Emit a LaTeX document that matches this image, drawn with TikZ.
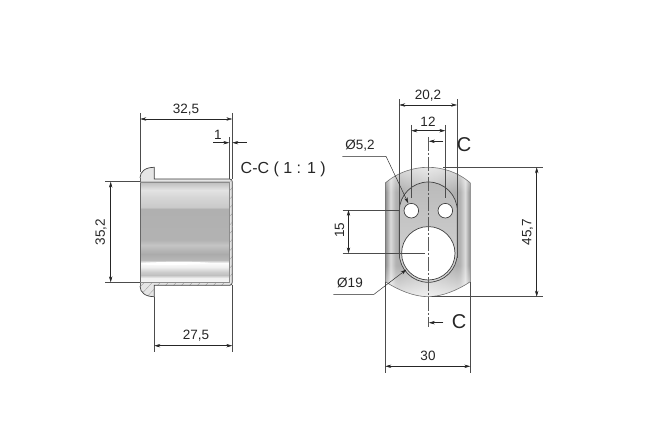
\documentclass[tikz,border=0pt]{standalone}
\usepackage{fontspec}
\usetikzlibrary{arrows.meta,fadings}
\setmainfont{Liberation Sans}
\pgfdeclareverticalshading{tubeshade}{100bp}{color(0bp)=(black!4);color(25bp)=(black!4);color(27bp)=(black!6);color(28.5bp)=(black!25);color(30bp)=(black!20);color(32.5bp)=(black!6);color(34.5bp)=(black!1);color(36bp)=(black!28);color(39bp)=(black!33);color(43.5bp)=(black!23);color(46bp)=(black!30);color(61.5bp)=(black!31);color(62.5bp)=(black!21);color(67.5bp)=(black!16);color(71bp)=(black!11);color(74.5bp)=(black!24);color(100bp)=(black!24)}
\pgfdeclarehorizontalshading{plateshade}{100bp}{color(0bp)=(black!45);color(25bp)=(black!45);color(26bp)=(black!35);color(28bp)=(black!14);color(31bp)=(black!30);color(33bp)=(black!32);color(50bp)=(black!22);color(67bp)=(black!32);color(69bp)=(black!30);color(72bp)=(black!14);color(74bp)=(black!35);color(75bp)=(black!45);color(100bp)=(black!45)}
\pgfdeclareverticalshading{keyshade}{100bp}{color(0bp)=(black!16);color(25bp)=(black!16);color(75bp)=(black!27);color(100bp)=(black!27)}
\tikzset{
	outline/.style={draw=black!75, line width=0.7pt},
	dimline/.style={line width=0.45pt, draw=black!85, >={Stealth[length=6pt,width=3.4pt]}},
	extline/.style={line width=0.45pt, draw=black!70},
	dimtext/.style={inner sep=0pt, font=\fontsize{13.5}{15}\selectfont, text=black!85},
	cuttext/.style={inner sep=0pt, font=\fontsize{20}{22}\selectfont, text=black!85},
	hatchline/.style={line width=0.3pt, draw=black!40}
}
\begin{document}
\begin{tikzpicture}[x=1pt, y=-1pt]
	\def\dimh[#1](#2,#3,#4){
		\draw[dimline, <->, #1] (#2,#4)--(#3,#4);}
	\def\dimv[#1](#2,#3,#4){
		\draw[dimline, <->, #1] (#4,#2)--(#4,#3);}
	\useasboundingbox (0,0) rectangle (653,435);
	\fill[white] (0,0) rectangle (653,435);
	% side view
	\fill[black!10] (140,178) .. controls (140,171) and (146,167.3) .. (154.3,167.3) -- (154.3,179) -- (229.5,179) .. controls (231.5,179) and (232.3,180) .. (232.3,182) -- (232.3,282) .. controls (232.3,284.5) and (231.5,285.3) .. (229.5,285.3) -- (154.3,285.3) -- (154.3,296.7) .. controls (146,296.7) and (140,293) .. (140,286) -- cycle;
	\begin{scope}
		\clip (140,178) .. controls (140,171) and (146,167.3) .. (154.3,167.3) -- (154.3,179) -- (229.5,179) .. controls (231.5,179) and (232.3,180) .. (232.3,182) -- (232.3,282) .. controls (232.3,284.5) and (231.5,285.3) .. (229.5,285.3) -- (154.3,285.3) -- (154.3,296.7) .. controls (146,296.7) and (140,293) .. (140,286) -- cycle;
		\foreach \x in {120,128,...,340}{\draw[hatchline] (\x,300)--(\x+130,160);}
	\end{scope}
	\shade[shading=tubeshade] (140.5,182) rectangle (229.5,282);
	\draw[outline] (140,178) .. controls (140,171) and (146,167.3) .. (154.3,167.3) -- (154.3,179) -- (229.5,179) .. controls (231.5,179) and (232.3,180) .. (232.3,182) -- (232.3,226.5);
	\draw[outline] (140,286) .. controls (140,293) and (146,296.7) .. (154.3,296.7) -- (154.3,285.3) -- (229.5,285.3) .. controls (231.5,285.3) and (232.3,284.5) .. (232.3,282) -- (232.3,226.5);
	\draw[line width=0.5pt, draw=black!60] (140,178)--(140,286);
	\draw[line width=0.5pt, draw=black!45] (140,182)--(229.5,182)--(229.5,282)--(140,282);
	\fill[white] (143,263) .. controls (160,261.5) and (200,261.5) .. (210,263) .. controls (210.5,264.5) and (160,266) .. (143,264.5) -- cycle;
	% front view
	\shade[shading=plateshade] (385.3,183) .. controls (398,172) and (414,167.3) .. (428,167.3) .. controls (442,167.3) and (458,172) .. (470.3,183) -- (470.3,281.7) .. controls (458,290) and (442,296.7) .. (428,296.7) .. controls (414,296.7) and (398,290) .. (385.3,281.7) -- cycle;
	\begin{scope}
		\clip (385.3,183) .. controls (398,172) and (414,167.3) .. (428,167.3) .. controls (442,167.3) and (458,172) .. (470.3,183) -- (470.3,281.7) .. controls (458,290) and (442,296.7) .. (428,296.7) .. controls (414,296.7) and (398,290) .. (385.3,281.7) -- cycle;
		\fill[white, fill opacity=0.75, path fading=north] (385,265) rectangle (471,297);
		\fill[white, fill opacity=0.6, path fading=south] (385,167) rectangle (471,192);
	\end{scope}
	\draw[line width=0.6pt, draw=black!55] (385.3,183) .. controls (398,172) and (414,167.3) .. (428,167.3) .. controls (442,167.3) and (458,172) .. (470.3,183) -- (470.3,281.7) .. controls (458,290) and (442,296.7) .. (428,296.7) .. controls (414,296.7) and (398,290) .. (385.3,281.7) -- cycle;
	\shade[shading=keyshade] (399.3,211) arc[start angle=180, end angle=360, radius=29] -- (457.3,253.3) arc[start angle=0, end angle=180, radius=29] -- cycle;
	\draw[outline] (399.3,211) arc[start angle=180, end angle=360, radius=29] -- (457.3,253.3) arc[start angle=0, end angle=180, radius=29] -- cycle;
	\draw[outline, fill=white] (428.3,253.3) circle[radius=26.7];
	\draw[outline, fill=white] (411.3,210.7) circle[radius=7.3];
	\draw[outline, fill=white] (445.3,210.7) circle[radius=7.3];
	% extension lines
	\draw[extline] (140.3,113)--(140.3,172) (232.3,113)--(232.3,179) (229.3,137)--(229.3,179);
	\draw[extline] (105,181.7)--(140,181.7) (105,282.3)--(140,282.3);
	\draw[extline] (154.3,296.7)--(154.3,351.7) (232.3,285)--(232.3,351.7);
	\draw[extline] (399.3,99.3)--(399.3,258) (457,99.3)--(457,258);
	\draw[extline] (411.3,125)--(411.3,198) (445.3,125)--(445.3,198);
	\draw[extline] (443,167.3)--(542.7,167.3) (431.7,296.7)--(542.7,296.7);
	\draw[extline] (342.7,210)--(399.3,210) (342.7,253.3)--(425,253.3);
	\draw[extline] (385.3,282)--(385.3,372.7) (470.3,282)--(470.3,372.7);
	\draw[line width=0.35pt, draw=black!65, dash pattern=on 14pt off 2pt on 2pt off 2pt] (428.3,137)--(428.3,327);
	% dimensions
	\dimh[](140.3,232.3,119)
	\dimh[](154.3,232.3,345.7)
	\dimh[](399.3,457,105)
	\dimh[](411.3,445.3,130.7)
	\dimh[](385.3,470.3,366.3)
	\dimv[](181.7,282.3,110.7)
	\dimv[](167.3,296.7,536.7)
	\dimv[](210,253.3,348.5)
	\draw[dimline, ->] (213,142.7)--(229.3,142.7);
	\draw[dimline, ->] (246.7,142.7)--(232.3,142.7);
	\draw[dimline, ->] (443.3,141.3)--(428.8,141.3);
	\draw[dimline, ->] (443.3,322.7)--(428.8,322.7);
	% leaders
	\draw[dimline, ->] (342.3,156.3)--(386,156.3)--(408.3,203.3);
	\draw[dimline, ->] (333.3,294.3)--(374,294.3)--(406.5,269.5);
	% labels
	\node[dimtext] (lbllength) at (186,109.5) {32,5};
	\node[dimtext] (lblwall) at (218,135) {1};
	\node[dimtext] (lbltube) at (196,335.5) {27,5};
	\node[dimtext, rotate=90] (lblbore) at (101,232) {35,2};
	\node[dimtext, anchor=west, font=\fontsize{16}{18}\selectfont] (lblsection) at (240.5,169.5) {C-C ( 1 : 1 )};
	\node[dimtext] (lblwidth) at (428,95.5) {20,2};
	\node[dimtext] (lblpitch) at (428,122) {12};
	\node[dimtext, rotate=90] (lblheight) at (527.5,232) {45,7};
	\node[dimtext, rotate=90] (lblcentre) at (339.5,230) {15};
	\node[dimtext] (lblsmall) at (360,145.5) {Ø5,2};
	\node[dimtext] (lblbig) at (350,283) {Ø19};
	\node[dimtext] (lblplate) at (428,356) {30};
	\node[cuttext] (lblcuttop) at (464,145) {C};
	\node[cuttext] (lblcutbottom) at (459,322) {C};
\end{tikzpicture}
\end{document}
